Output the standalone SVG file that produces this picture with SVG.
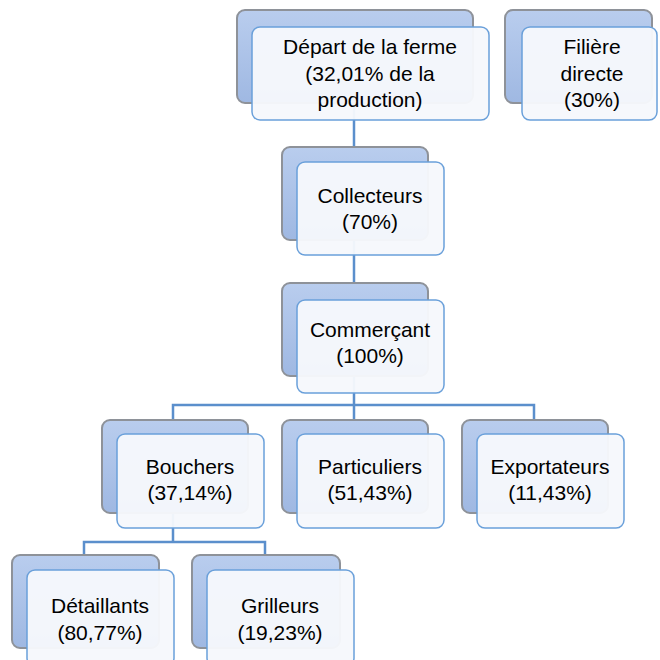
<svg xmlns="http://www.w3.org/2000/svg" width="660" height="660" viewBox="0 0 660 660">
<defs>
<linearGradient id="bg" x1="0" y1="0" x2="0" y2="1">
<stop offset="0" stop-color="#b9cdee"/>
<stop offset="1" stop-color="#9fb8e2"/>
</linearGradient>
<style>
.back{fill:url(#bg);stroke:#8e9299;stroke-width:2}
.front{fill:#f6f8fc;fill-opacity:0.96;stroke:#6aa0da;stroke-width:1.5}
.conn{fill:none;stroke:#5b8fcc;stroke-width:2.5}
text{font-family:"Liberation Sans",Arial,sans-serif;font-size:21px;fill:#000;text-anchor:middle}
</style>
</defs>
<rect width="660" height="660" fill="#ffffff"/>
<g id="connectors">
<path class="conn" d="M354,103 V147"/>
<path class="conn" d="M354,240 V283"/>
<path class="conn" d="M354,376 V405 M173,420 V405 H534 V420 M354,405 V420"/>
<path class="conn" d="M173,513 V542 M84,555 V542 H265 V555"/>
</g>
<g id="depart">
<rect class="back" x="237" y="10" width="236" height="93" rx="8"/>
<rect class="front" x="252" y="27" width="237" height="93" rx="8"/>
<text x="370" y="54">Départ de la ferme</text>
<text x="370" y="81">(32,01% de la</text>
<text x="370" y="107">production)</text>
</g>
<g id="filiere">
<rect class="back" x="505" y="10" width="147" height="93" rx="8"/>
<rect class="front" x="522" y="27" width="135" height="93" rx="8"/>
<text x="592" y="54">Filière</text>
<text x="592" y="81">directe</text>
<text x="592" y="107">(30%)</text>
</g>
<g id="collecteurs">
<rect class="back" x="282" y="147" width="146" height="93" rx="8"/>
<rect class="front" x="297" y="162" width="147" height="93" rx="8"/>
<text x="370" y="203">Collecteurs</text>
<text x="370" y="229">(70%)</text>
</g>
<g id="commercant">
<rect class="back" x="282" y="283" width="146" height="93" rx="8"/>
<rect class="front" x="297" y="300" width="147" height="93" rx="8"/>
<text x="370" y="337">Commerçant</text>
<text x="370" y="363">(100%)</text>
</g>
<g id="bouchers">
<rect class="back" x="102" y="420" width="146" height="93" rx="8"/>
<rect class="front" x="117" y="434" width="147" height="94" rx="8"/>
<text x="190" y="474">Bouchers</text>
<text x="190" y="500">(37,14%)</text>
</g>
<g id="particuliers">
<rect class="back" x="282" y="420" width="146" height="93" rx="8"/>
<rect class="front" x="297" y="434" width="147" height="94" rx="8"/>
<text x="370" y="474">Particuliers</text>
<text x="370" y="500">(51,43%)</text>
</g>
<g id="exportateurs">
<rect class="back" x="462" y="420" width="146" height="93" rx="8"/>
<rect class="front" x="477" y="434" width="147" height="94" rx="8"/>
<text x="550" y="474">Exportateurs</text>
<text x="550" y="500">(11,43%)</text>
</g>
<g id="detaillants">
<rect class="back" x="12" y="555" width="147" height="93" rx="8"/>
<rect class="front" x="27" y="570" width="147" height="96" rx="8"/>
<text x="100" y="613">Détaillants</text>
<text x="100" y="640">(80,77%)</text>
</g>
<g id="grilleurs">
<rect class="back" x="192" y="555" width="148" height="93" rx="8"/>
<rect class="front" x="207" y="570" width="147" height="96" rx="8"/>
<text x="280" y="613">Grilleurs</text>
<text x="280" y="640">(19,23%)</text>
</g>
</svg>
